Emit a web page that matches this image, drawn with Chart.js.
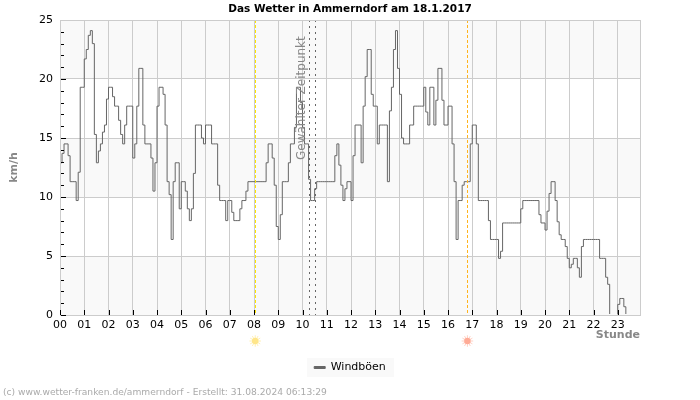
<!DOCTYPE html>
<html>
<head>
<meta charset="utf-8">
<style>
  html, body { margin: 0; padding: 0; background: #fff; }
  canvas { display: block; }
</style>
<script src="https://cdn.jsdelivr.net/npm/chart.js@4/dist/chart.umd.min.js"></script>
</head>
<body>
<canvas id="windChart" width="700" height="400"></canvas>
<script>
// one gust reading every 5 minutes
var windValues = [
    12.9, 13.7, 14.5, 14.5, 13.5, 11.3, 11.3, 11.3, 9.7, 12.1, 19.3, 19.3,
    21.7, 22.5, 23.7, 24.1, 23, 15.3, 12.9, 13.9, 14.5, 15.5, 16.1, 18.3,
    19.3, 19.3, 18.5, 17.7, 17.7, 16.5, 15.3, 14.5, 16.1, 17.7, 17.7, 17.7,
    13.3, 14.5, 17.7, 20.9, 20.9, 16.1, 14.5, 14.5, 14.5, 13.3, 10.5, 12.9,
    17.7, 19.3, 19.3, 18.7, 16.1, 11.3, 10.2, 6.4, 11.3, 12.9, 12.9, 9,
    11.3, 11.3, 10.5, 9, 8, 9, 12, 16.1, 16.1, 16.1, 15, 14.5,
    16.1, 16.1, 16.1, 14.5, 14.5, 14.5, 11, 9.7, 9.7, 9.7, 8, 9.7,
    9.7, 8.7, 8, 8, 8, 9, 9.7, 9.7, 10.5, 11.3, 11.3, 11.3,
    11.3, 11.3, 11.3, 11.3, 11.3, 11.3, 12.9, 14.5, 14.5, 13.3, 11, 7.5,
    6.4, 8.5, 11.3, 11.3, 11.3, 12.9, 14.5, 14.5, 15.9, 19.3, 19.3, 18,
    15.9, 14.5, 14.5, 11.5, 9.7, 9.7, 10.7, 11.3, 11.3, 11.3, 11.3, 11.3,
    11.3, 11.3, 11.3, 11.3, 13.5, 14.5, 12.7, 11, 9.7, 10.7, 11.3, 11.3,
    9.7, 13.5, 16.1, 16.1, 16.1, 12.9, 17.7, 20.2, 22.5, 22.5, 18.7, 17.7,
    17.7, 14.5, 16.1, 16.1, 16.1, 16.1, 11.3, 17.3, 19.3, 22.5, 24.1, 20.9,
    18.7, 15, 14.5, 14.5, 14.5, 16.1, 16.1, 17.7, 17.7, 17.7, 17.7, 17.7,
    19.3, 17.2, 16.1, 19.3, 19.3, 16.1, 18.2, 20.9, 20.9, 18.2, 16.1, 16.1,
    17.7, 17.7, 14.5, 11.3, 6.4, 9.7, 9.7, 11, 11.3, 11.3, 11.3, 14.5,
    16.1, 16.1, 14.5, 9.7, 9.7, 9.7, 9.7, 9.7, 8, 6.4, 6.4, 6.4,
    6.4, 4.8, 5.4, 7.8, 7.8, 7.8, 7.8, 7.8, 7.8, 7.8, 7.8, 7.8,
    9, 9.7, 9.7, 9.7, 9.7, 9.7, 9.7, 9.7, 9.7, 8.5, 7.8, 7.8,
    7.2, 8.8, 10.3, 11.3, 11.3, 9.7, 7.9, 6.8, 6.4, 6.4, 5.8, 4.8,
    4, 4.3, 4.8, 4.8, 4, 3.2, 5.8, 6.4, 6.4, 6.4, 6.4, 6.4,
    6.4, 6.4, 6.4, 4.8, 4.8, 4.8, 3.2, 2.6, 0, 0, 0, 0,
    0.9, 1.4, 1.4, 0.7, 0, 0, 0, 0, 0, 0, 0, 0
];
var hourLabels = ["00", "01", "02", "03", "04", "05", "06", "07", "08", "09", "10", "11",
    "12", "13", "14", "15", "16", "17", "18", "19", "20", "21", "22", "23"];
var bandRanges = [[0, 5], [10, 15], [20, 25]];
var sunrise = 8.05;
var sunset = 16.8;
var selectedFrom = 10.26;
var selectedTo = 10.5;

var points = windValues.map(function (v, i) {
    return { x: i / 12, y: v };
});

var font = "'DejaVu Sans', sans-serif";

function drawSun(ctx, x, y, core, ray) {
    ctx.save();
    ctx.strokeStyle = ray;
    ctx.lineWidth = 1;
    for (var a = 0; a < 12; a++) {
        var t = a * Math.PI / 6;
        ctx.beginPath();
        ctx.moveTo(x + Math.cos(t) * 3, y + Math.sin(t) * 3);
        ctx.lineTo(x + Math.cos(t) * 5.8, y + Math.sin(t) * 5.8);
        ctx.stroke();
    }
    ctx.fillStyle = core;
    ctx.beginPath();
    ctx.arc(x, y, 3.3, 0, Math.PI * 2);
    ctx.fill();
    ctx.restore();
}

function vLine(ctx, x, top, bottom, color, dash) {
    ctx.save();
    ctx.strokeStyle = color;
    ctx.lineWidth = 1;
    ctx.setLineDash(dash);
    ctx.beginPath();
    ctx.moveTo(Math.round(x) + 0.5, top);
    ctx.lineTo(Math.round(x) + 0.5, bottom);
    ctx.stroke();
    ctx.restore();
}

var backdrop = {
    id: "backdrop",
    beforeDraw: function (chart) {
        var ctx = chart.ctx, area = chart.chartArea, y = chart.scales.y;
        ctx.save();
        ctx.fillStyle = "#f9f9f9";
        bandRanges.forEach(function (b) {
            ctx.fillRect(area.left, y.getPixelForValue(b[1]), area.right - area.left, y.getPixelForValue(b[0]) - y.getPixelForValue(b[1]));
        });
        // legend box
        ctx.fillRect(307, chart.legend.top, 87, 19);
        ctx.restore();
    }
};

var overlay = {
    id: "overlay",
    afterDatasetsDraw: function (chart) {
        var ctx = chart.ctx, area = chart.chartArea, x = chart.scales.x, y = chart.scales.y;
        vLine(ctx, x.getPixelForValue(sunrise), area.top, area.bottom, "#ffe600", [3, 2]);
        vLine(ctx, x.getPixelForValue(sunset), area.top, area.bottom, "#ffb41f", [3, 2]);
        vLine(ctx, x.getPixelForValue(selectedFrom), area.top, area.bottom, "#666666", [2, 4]);
        vLine(ctx, x.getPixelForValue(selectedTo), area.top, area.bottom, "#666666", [2, 4]);

        // frame
        ctx.save();
        ctx.strokeStyle = "#cccccc";
        ctx.lineWidth = 1;
        ctx.strokeRect(area.left + 0.5, area.top + 0.5, area.right - area.left, area.bottom - area.top);

        // short ticks inside the plot
        ctx.strokeStyle = "#000000";
        ctx.beginPath();
        for (var v = 0; v <= 24; v++) {
            var py = Math.round(y.getPixelForValue(v)) + 0.5;
            ctx.moveTo(61, py);
            ctx.lineTo(v % 5 === 0 ? 66 : 64, py);
        }
        hourLabels.forEach(function (label, h) {
            var px = Math.round(x.getPixelForValue(h)) + 0.5;
            ctx.moveTo(px, area.bottom);
            ctx.lineTo(px, area.bottom - 5);
        });
        ctx.stroke();
        ctx.restore();

        drawSun(ctx, x.getPixelForValue(sunrise), 341, "#ffe68a", "#fff0b8");
        drawSun(ctx, x.getPixelForValue(sunset), 341, "#ffab96", "#ffd2c6");

        ctx.save();
        ctx.translate(x.getPixelForValue(selectedFrom) - 7, 160);
        ctx.rotate(-Math.PI / 2);
        ctx.fillStyle = "#888888";
        ctx.font = "12px " + font;
        ctx.textBaseline = "middle";
        ctx.fillText("Gewählter Zeitpunkt", 0, 0);
        ctx.restore();

        ctx.save();
        ctx.fillStyle = "#aaaaaa";
        ctx.font = "9.15px " + font;
        ctx.textBaseline = "middle";
        ctx.fillText("(c) www.wetter-franken.de/ammerndorf - Erstellt: 31.08.2024 06:13:29", 3, 393);
        ctx.restore();
    }
};

new Chart(document.getElementById("windChart").getContext("2d"), {
    type: "line",
    data: {
        datasets: [{
            label: "Windböen",
            data: points,
            borderColor: "#666666",
            backgroundColor: "#666666",
            borderWidth: 1,
            pointRadius: 0,
            stepped: true,
            fill: false,
            clip: { left: 1, top: 1, right: 1, bottom: -1 }
        }]
    },
    options: {
        responsive: false,
        animation: false,
        layout: { padding: { bottom: 17 } },
        scales: {
            x: {
                type: "linear",
                min: 0,
                max: 287 / 12,
                afterFit: function (scale) { scale.height = 43; },
                grid: { color: "#cccccc", drawTicks: false },
                border: { display: false },
                ticks: {
                    stepSize: 1,
                    includeBounds: false,
                    autoSkip: false,
                    maxRotation: 0,
                    padding: 4,
                    color: "#000000",
                    font: { family: font, size: 11 },
                    callback: function (v) { return hourLabels[v]; }
                },
                title: {
                    display: true,
                    text: "Stunde",
                    align: "end",
                    color: "#888888",
                    font: { family: font, size: 11, weight: "bold" },
                    padding: { top: 0, bottom: 16 }
                }
            },
            y: {
                min: 0,
                max: 25,
                afterFit: function (scale) { scale.width = 60; },
                grid: { color: "#cccccc", drawTicks: false },
                border: { display: false },
                ticks: {
                    stepSize: 5,
                    padding: 7,
                    color: "#000000",
                    font: { family: font, size: 11 }
                },
                title: {
                    display: true,
                    text: "km/h",
                    color: "#888888",
                    font: { family: font, size: 11, weight: "bold" },
                    padding: { top: 8, bottom: 0 }
                }
            },
            // empty axis, only keeps the margin right of the plot
            yMargin: {
                position: "right",
                min: 0,
                max: 25,
                afterFit: function (scale) { scale.width = 60; },
                grid: { drawOnChartArea: false, drawTicks: false },
                border: { display: false },
                ticks: { display: false }
            }
        },
        plugins: {
            title: {
                display: true,
                text: "Das Wetter in Ammerndorf am 18.1.2017",
                color: "#000000",
                font: { family: font, size: 10.5, weight: "bold" },
                padding: { top: 3, bottom: 4.4 }
            },
            legend: {
                position: "bottom",
                labels: {
                    color: "#000000",
                    boxWidth: 11,
                    boxHeight: 2,
                    padding: 4,
                    font: { family: font, size: 11 }
                }
            },
            tooltip: { enabled: false }
        }
    },
    plugins: [backdrop, overlay]
});
</script>
</body>
</html>
